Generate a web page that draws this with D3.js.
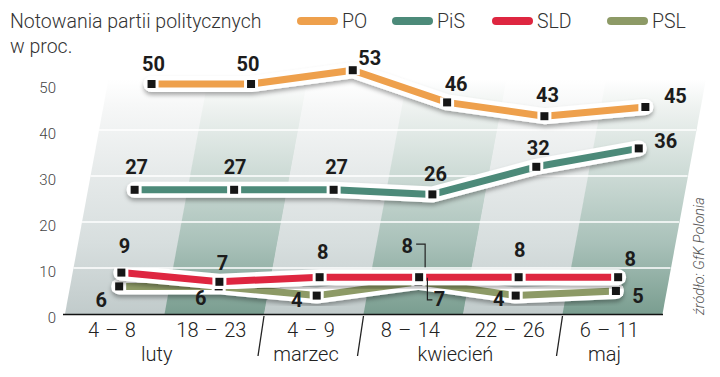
<!DOCTYPE html>
<html><head><meta charset="utf-8">
<script src="https://cdn.jsdelivr.net/npm/d3@7"></script>
<style>body{margin:0;background:#fff;} svg{display:block;}</style>
</head><body><svg id="c" width="720" height="377"></svg>
<script>
// ---- data ----
const categories = ["4 – 8", "18 – 23", "4 – 9", "8 – 14", "22 – 26", "6 – 11"];
const months = ["luty", "marzec", "kwiecień", "maj"];
const monthFirst = [0, 2, 3, 5];
const monthLast = [1, 2, 4, 5];
const seriesNames = ["PO", "PiS", "SLD", "PSL"];
const PO = [50, 50, 53, 46, 43, 45];
const PiS = [27, 27, 27, 26, 32, 36];
const SLD = [9, 7, 8, 8, 8, 8];
const PSL = [6, 6, 4, 7, 4, 5];
const yTicks = [0, 10, 20, 30, 40, 50];
const title1 = "Notowania partii politycznych";
const title2 = "w proc.";
const source = "źródło: GfK Polonia";

// ---- layout / style ----
const colors = {PO: "#eea04c", PiS: "#4c8a79", SLD: "#de2640", PSL: "#8d9a66"};
const values = {PO, PiS, SLD, PSL};
const labelOffsets = {
  PO:  [[2,-13],[-3,-13],[17,-5],[9,-11],[3,-14],[30,-4]],
  PiS: [[2,-16],[1,-16],[3,-16],[3,-13],[2,-12],[27,0]],
  SLD: [[3,-20],[3,-12],[3,-18],[-12,-24],[1,-20],[12,-11]],
  PSL: [[-18,21],[-18,19],[-20,11],[21,24],[-17,10],[22,12]]
};
const brackets = [
  {series: "SLD", i: 3, pts: [[-3,-33],[6,-33],[6,-10]]},
  {series: "PSL", i: 3, pts: [[9,-4],[9,18],[14,18]]}
];
const legendX = [297, 392, 492, 607];

const svg = d3.select("#c");
const baseY = 314;
const x = d3.scaleBand().domain(categories).range([65, 662]).padding(0);
const y = d3.scaleLinear().domain([0, 50]).range([baseY, 84]);
const skewP = 0.16, skewB = 0.185;
const px = (i, v) => x(categories[i]) + x.bandwidth() / 2 + skewP * (baseY - y(v));

const defs = svg.append("defs");
function grad(id, stops) {
  const g = defs.append("linearGradient").attr("id", id)
    .attr("gradientUnits", "userSpaceOnUse").attr("x1", 0).attr("x2", 0)
    .attr("y1", y(51)).attr("y2", baseY);
  stops.forEach(s => g.append("stop").attr("offset", s[0]).attr("stop-color", s[1]));
}
grad("gLight", [[0, "#ffffff"], [0.12, "#f6f7f7"], [0.4, "#e6eaea"], [0.7, "#d7dede"], [1, "#c1cbcb"]]);
grad("gDark", [[0, "#ffffff"], [0.12, "#eef2f0"], [0.4, "#cddbd6"], [0.7, "#a9c1b9"], [1, "#7a9e90"]]);
const f = defs.append("filter").attr("id", "sh").attr("x", "-10%").attr("y", "-50%").attr("width", "120%").attr("height", "220%");
f.append("feDropShadow").attr("dx", 0).attr("dy", 3).attr("stdDeviation", 2.2)
  .attr("flood-color", "#000").attr("flood-opacity", 0.33);

// ---- background columns ----
const yTop = y(51);
const bg = svg.append("g");
categories.forEach((c, i) => {
  const x0 = x(c), x1 = x0 + x.bandwidth();
  const s = skewB * (baseY - yTop);
  bg.append("path")
    .attr("d", `M${x0},${baseY}L${x1 + 0.5},${baseY}L${x1 + 0.5 + s},${yTop}L${x0 + s},${yTop}Z`)
    .attr("fill", i % 2 ? "url(#gDark)" : "url(#gLight)");
});
// gridlines
const xL = x.range()[0], xR = x.range()[1];
yTicks.filter(t => t > 0 && t < 50).forEach(t => {
  const yy = y(t), s = skewB * (baseY - yy);
  bg.append("line").attr("x1", xL + s).attr("x2", xR + s).attr("y1", yy).attr("y2", yy)
    .attr("stroke", "#fff").attr("stroke-width", 1.6);
});
// y tick labels
svg.append("g").selectAll("text").data(yTicks).join("text")
  .attr("x", 56).attr("y", d => y(d) + 4).attr("dy", "0.35em").attr("text-anchor", "end")
  .attr("font-family", "Roboto").attr("font-weight", 300).attr("font-size", 15).attr("fill", "#444")
  .text(d => d);
// bottom axis
svg.append("line").attr("x1", 63).attr("x2", 663).attr("y1", baseY + 0.5).attr("y2", baseY + 0.5)
  .attr("stroke", "#111").attr("stroke-width", 1.6);
svg.append("g").selectAll("text").data(categories).join("text")
  .attr("x", (d) => x(d) + x.bandwidth() / 2 - skewP * 18).attr("y", 337)
  .attr("text-anchor", "middle").attr("font-family", "Roboto").attr("font-weight", 300)
  .attr("font-size", 20).attr("word-spacing", 1.5).attr("fill", "#222").text(d => d);
svg.append("g").selectAll("text").data(months).join("text")
  .attr("x", (d, k) => (x(categories[monthFirst[k]]) + x(categories[monthLast[k]]) + x.bandwidth()) / 2 - skewP * 48)
  .attr("y", 361).attr("text-anchor", "middle").attr("font-family", "Roboto").attr("font-weight", 300)
  .attr("font-size", 20).attr("fill", "#222").text(d => d);
// month separators
monthFirst.slice(1).forEach(i => {
  const bx = x(categories[i]);
  svg.append("line").attr("x1", bx).attr("y1", baseY + 2).attr("x2", bx - 6).attr("y2", baseY + 42)
    .attr("stroke", "#222").attr("stroke-width", 1.3);
});

// ---- lines ----
const line = d3.line().x(d => d[0]).y(d => d[1]);
const drawOrder = ["PSL", "SLD", "PiS", "PO"];
drawOrder.forEach(name => {
  const g = svg.append("g");
  const pts = values[name].map((v, i) => [px(i, v), y(v)]);
  g.append("path").attr("d", line(pts)).attr("fill", "none").attr("stroke", "#fff")
    .attr("stroke-width", 16).attr("stroke-linecap", "round").attr("stroke-linejoin", "round")
    .attr("filter", "url(#sh)");
  g.append("path").attr("d", line(pts)).attr("fill", "none").attr("stroke", colors[name])
    .attr("stroke-width", 7).attr("stroke-linejoin", "round");
  g.selectAll("rect.w").data(pts).join("rect").attr("class", "w")
    .attr("x", d => d[0] - 7).attr("y", d => d[1] - 5).attr("width", 14).attr("height", 10)
    .attr("fill", "#fff");
  g.selectAll("rect.m").data(pts).join("rect").attr("class", "m")
    .attr("x", d => d[0] - 4).attr("y", d => d[1] - 4).attr("width", 8).attr("height", 8)
    .attr("fill", "#161616");
});
// brackets
brackets.forEach(b => {
  const v = values[b.series][b.i];
  const p = [px(b.i, v), y(v)];
  svg.append("path").attr("d", line(b.pts.map(q => [p[0] + q[0], p[1] + q[1]])))
    .attr("fill", "none").attr("stroke", "#222").attr("stroke-width", 1.2);
});
// value labels
seriesNames.forEach(name => {
  svg.append("g").selectAll("text").data(values[name]).join("text")
    .attr("x", (v, i) => px(i, v) + labelOffsets[name][i][0])
    .attr("y", (v, i) => y(v) + labelOffsets[name][i][1])
    .attr("text-anchor", "middle").attr("font-family", "Roboto").attr("font-weight", 700)
    .attr("font-size", 20).attr("fill", "#1c1c1c").text(v => v);
});

// ---- title & legend ----
svg.append("text").attr("x", 10).attr("y", 28).attr("font-family", "Roboto").attr("font-weight", 300)
  .attr("font-size", 19.5).attr("fill", "#333").text(title1);
svg.append("text").attr("x", 10).attr("y", 53).attr("font-family", "Roboto").attr("font-weight", 300)
  .attr("font-size", 19.5).attr("fill", "#333").text(title2);
const lg = svg.append("g");
seriesNames.forEach((name, k) => {
  lg.append("line").attr("x1", legendX[k] + 4).attr("x2", legendX[k] + 37).attr("y1", 21).attr("y2", 21)
    .attr("stroke", colors[name]).attr("stroke-width", 8).attr("stroke-linecap", "round");
  lg.append("text").attr("x", legendX[k] + 45).attr("y", 28).attr("font-family", "Roboto")
    .attr("font-weight", 300).attr("font-size", 19.5).attr("fill", "#333").text(name);
});
// source
svg.append("text").attr("transform", "translate(704,315) rotate(-90)")
  .attr("font-family", "Roboto").attr("font-weight", 300).attr("font-style", "italic")
  .attr("font-size", 14.5).attr("fill", "#555").text(source);
</script></body></html>
